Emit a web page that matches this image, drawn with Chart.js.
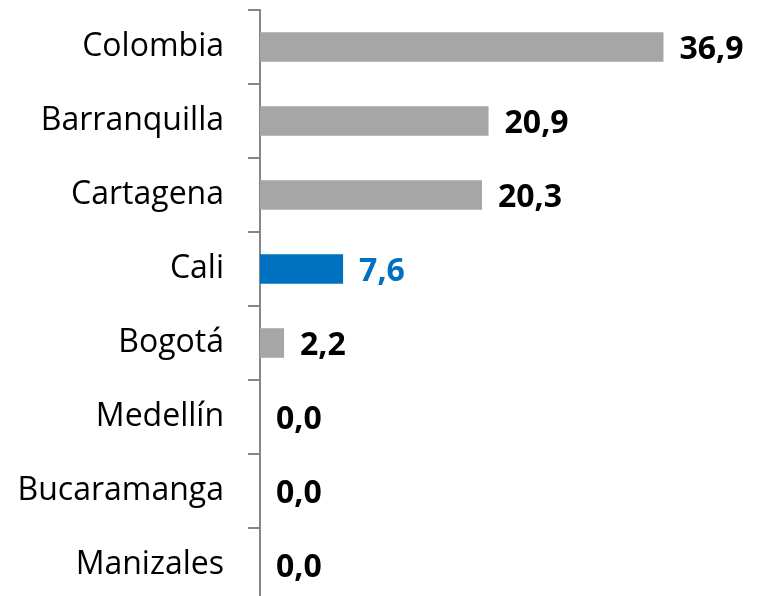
<!DOCTYPE html>
<html>
<head>
<meta charset="utf-8">
<script src="https://cdn.jsdelivr.net/npm/chart.js@4"></script>
<style>
  html, body { margin: 0; padding: 0; background: #fff; overflow: hidden; }
  #wrap { width: 763px; height: 602px; }
</style>
</head>
<body>
<div id="wrap"><canvas id="chart"></canvas></div>
<script>
// data
const cities = ['Colombia', 'Barranquilla', 'Cartagena', 'Cali', 'Bogotá', 'Medellín', 'Bucaramanga', 'Manizales'];
const values = [36.9, 20.9, 20.3, 7.6, 2.2, 0.0, 0.0, 0.0];
const highlight = 'Cali';

const GREY = '#A6A6A6';
const BLUE = '#0070C0';
const FONT = '"Open Sans", Calibri, sans-serif';

const barColors = cities.map(c => c === highlight ? BLUE : GREY);
const labelColors = cities.map(c => c === highlight ? BLUE : '#000');

// value labels at the end of each bar
const valueLabels = {
    id: 'valueLabels',
    afterDatasetsDraw(chart) {
        const ctx = chart.ctx;
        const meta = chart.getDatasetMeta(0);
        ctx.save();
        ctx.font = 'bold 32px ' + FONT;
        ctx.textBaseline = 'middle';
        ctx.textAlign = 'left';
        meta.data.forEach((bar, i) => {
            ctx.fillStyle = labelColors[i];
            ctx.fillText(values[i].toFixed(1).replace('.', ','), bar.x + 16, bar.y + 3);
        });
        ctx.restore();
    }
};

new Chart(document.getElementById('chart'), {
    type: 'bar',
    data: {
        labels: cities,
        datasets: [{
            data: values,
            backgroundColor: barColors,
            categoryPercentage: 1,
            barPercentage: 0.4
        }]
    },
    options: {
        indexAxis: 'y',
        responsive: true,
        maintainAspectRatio: false,
        animation: false,
        layout: { padding: { top: 10, right: 0, bottom: 0, left: 0 } },
        plugins: {
            legend: { display: false },
            tooltip: { enabled: false }
        },
        scales: {
            x: {
                display: false,
                min: 0,
                max: 46
            },
            y: {
                offset: true,
                border: { color: '#868686', width: 2 },
                grid: {
                    offset: true,
                    drawOnChartArea: false,
                    drawTicks: true,
                    tickLength: 12,
                    color: '#868686',
                    lineWidth: 2
                },
                ticks: {
                    color: '#000',
                    padding: 24,
                    font: { family: FONT, size: 32, lineHeight: 0.05 }
                },
                afterFit(scale) {
                    scale.width = 260;
                    scale.paddingTop = 0;
                    scale.paddingBottom = 0;
                }
            }
        }
    },
    plugins: [valueLabels]
});
</script>
</body>
</html>
